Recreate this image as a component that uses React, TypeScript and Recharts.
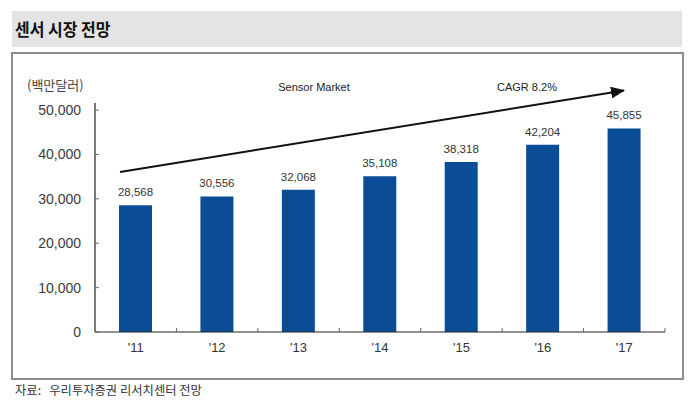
import React from 'react';
import { BarChart, Bar, XAxis, YAxis, LabelList } from 'recharts';

const years = ["'11", "'12", "'13", "'14", "'15", "'16", "'17"];
const marketSize = [28568, 30556, 32068, 35108, 38318, 42204, 45855];
const yTicks = [0, 10000, 20000, 30000, 40000, 50000];

const data = years.map((year, i) => ({ year, value: marketSize[i] }));

const LATIN = '"Liberation Sans", Arial, sans-serif';
const KR = '"Noto Sans CJK KR", "Noto Sans", sans-serif';
const BAR_COLOR = '#0b4c97';

const fmt = (v: number) => v.toLocaleString('en-US');

const X_GAP = 8; // tickSize + tickMargin for the x axis

// category label plus a small inward tick at the right edge of each slot
function YearTick(props: any) {
  const { x, y, payload } = props;
  const axisY = y - X_GAP;
  const edge = x + (payload.offset || 0);
  return (
    <g>
      <line x1={edge} y1={axisY} x2={edge} y2={axisY - 4} stroke="#666" />
      <text x={x} y={y + 12} textAnchor="middle" fill="#333" fontSize={13} fontFamily={LATIN}>
        {payload.value}
      </text>
    </g>
  );
}

export default function App() {
  return (
    <div style={{ position: 'absolute', left: 0, top: 0, width: 700, height: 411, background: '#fff', overflow: 'hidden' }}>
      {/* title band */}
      <div style={{ position: 'absolute', left: 12, top: 11, width: 670, height: 36, background: '#e4e4e4' }} />
      <div
        style={{
          position: 'absolute',
          left: 15,
          top: 18,
          fontFamily: KR,
          fontWeight: 700,
          fontSize: 17,
          lineHeight: '22px',
          color: '#111',
          transform: 'scaleX(0.94)',
          transformOrigin: 'left center',
          whiteSpace: 'nowrap',
        }}
      >
        센서 시장 전망
      </div>

      {/* frame */}
      <div style={{ position: 'absolute', left: 11, top: 52, width: 669, height: 324, border: '2px solid #8c8c8c' }} />

      <div style={{ position: 'absolute', left: 0, top: 0 }}>
        <BarChart
          width={700}
          height={411}
          data={data}
          margin={{ top: 103, right: 35, bottom: 49, left: 35 }}
          barSize={33}
        >
          <XAxis
            dataKey="year"
            height={30}
            tickLine={false}
            axisLine={{ stroke: '#222', strokeWidth: 1.2 }}
            tickSize={6}
            tickMargin={2}
            tick={<YearTick />}
            interval={0}
          />
          <YAxis
            width={60}
            domain={[0, 51600]}
            allowDataOverflow
            ticks={yTicks}
            interval={0}
            tickFormatter={fmt}
            tickSize={-4}
            tickMargin={18}
            axisLine={{ stroke: '#222', strokeWidth: 1.2 }}
            tickLine={{ stroke: '#666' }}
            tick={{ fill: '#3a3a3a', fontSize: 14, fontFamily: LATIN }}
          />
          <Bar dataKey="value" fill={BAR_COLOR} isAnimationActive={false}>
            <LabelList
              dataKey="value"
              position="top"
              offset={9}
              formatter={(v: any) => fmt(Number(v))}
              style={{ fill: '#333', fontSize: 11.5, fontFamily: LATIN }}
            />
          </Bar>
        </BarChart>
      </div>

      {/* growth arrow annotation */}
      <svg width={700} height={411} style={{ position: 'absolute', left: 0, top: 0, pointerEvents: 'none' }}>
        <defs>
          <marker id="arrowHead" markerWidth="7" markerHeight="6" refX="6.5" refY="3" orient="auto" markerUnits="strokeWidth">
            <polygon points="0 0, 7 3, 0 6" fill="#111" />
          </marker>
        </defs>
        <line x1={120} y1={172} x2={624} y2={90.5} stroke="#111" strokeWidth={2} markerEnd="url(#arrowHead)" />
        <text x={314} y={91} textAnchor="middle" fontSize={11} fontFamily={LATIN} fill="#222">
          Sensor Market
        </text>
        <text x={527} y={91} textAnchor="middle" fontSize={11} fontFamily={LATIN} fill="#222">
          CAGR 8.2%
        </text>
        <text x={27} y={90} fontSize={13} fontFamily={KR} fill="#444">
          (백만달러)
        </text>
      </svg>

      <div
        style={{
          position: 'absolute',
          left: 15,
          top: 382,
          fontFamily: KR,
          fontSize: 12.3,
          lineHeight: '16px',
          color: '#333',
          whiteSpace: 'pre',
        }}
      >
        {'자료:   우리투자증권 리서치센터 전망'}
      </div>
    </div>
  );
}
